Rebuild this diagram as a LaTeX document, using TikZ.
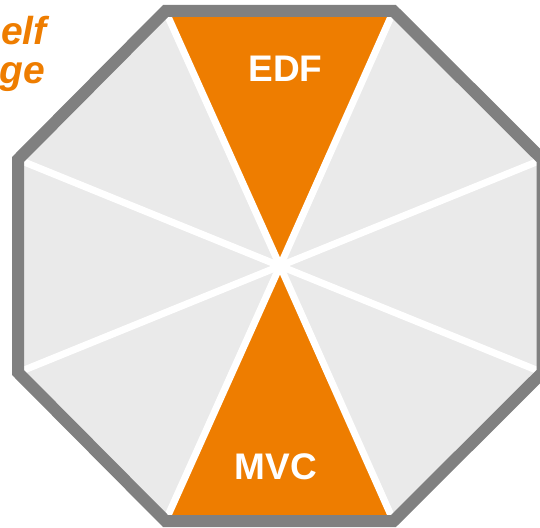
\documentclass[tikz,border=0pt]{standalone}
\usepackage{fontspec}
\setmainfont{Liberation Sans}
\definecolor{edforange}{RGB}{238,125,0}
\definecolor{octfill}{RGB}{234,234,234}
\definecolor{octborder}{RGB}{128,128,128}
\tikzset{
  sector/.style={fill=edforange},
  spoke/.style={draw=white, line width=7pt},
  rim/.style={draw=octborder, line width=12pt, line join=miter},
  label/.style={text=white, font=\fontsize{37}{40}\selectfont\bfseries, inner sep=0pt},
  sidetext/.style={text=edforange, font=\fontsize{39}{42}\selectfont\bfseries\itshape, inner sep=0pt, anchor=base east}
}
\begin{document}
\begin{tikzpicture}[x=1pt,y=-1pt]
\useasboundingbox (0,0) rectangle (540,527);
\coordinate (c) at (280,266);
\coordinate (v1) at (165.5,11);
\coordinate (v2) at (393.5,11);
\coordinate (v3) at (542.5,159.5);
\coordinate (v4) at (542.5,372.5);
\coordinate (v5) at (393.5,521);
\coordinate (v6) at (165.5,521);
\coordinate (v7) at (18,372.5);
\coordinate (v8) at (18,159.5);
\fill[octfill] (v1) -- (v2) -- (v3) -- (v4) -- (v5) -- (v6) -- (v7) -- (v8) -- cycle;
\fill[sector] (c) -- (v1) -- (v2) -- cycle;
\fill[sector] (c) -- (v5) -- (v6) -- cycle;
\foreach \v in {v1,v2,v3,v4,v5,v6,v7,v8} { \draw[spoke] (c) -- (\v); }
\draw[rim] (v1) -- (v2) -- (v3) -- (v4) -- (v5) -- (v6) -- (v7) -- (v8) -- cycle;
\node[label] (edf) at (285.5,69) {EDF};
\node[label] (mvc) at (276,466.5) {MVC};
\node[sidetext] (t1) at (47,45) {elf};
\node[sidetext] (t2) at (45,83) {ge};
\end{tikzpicture}
\end{document}
